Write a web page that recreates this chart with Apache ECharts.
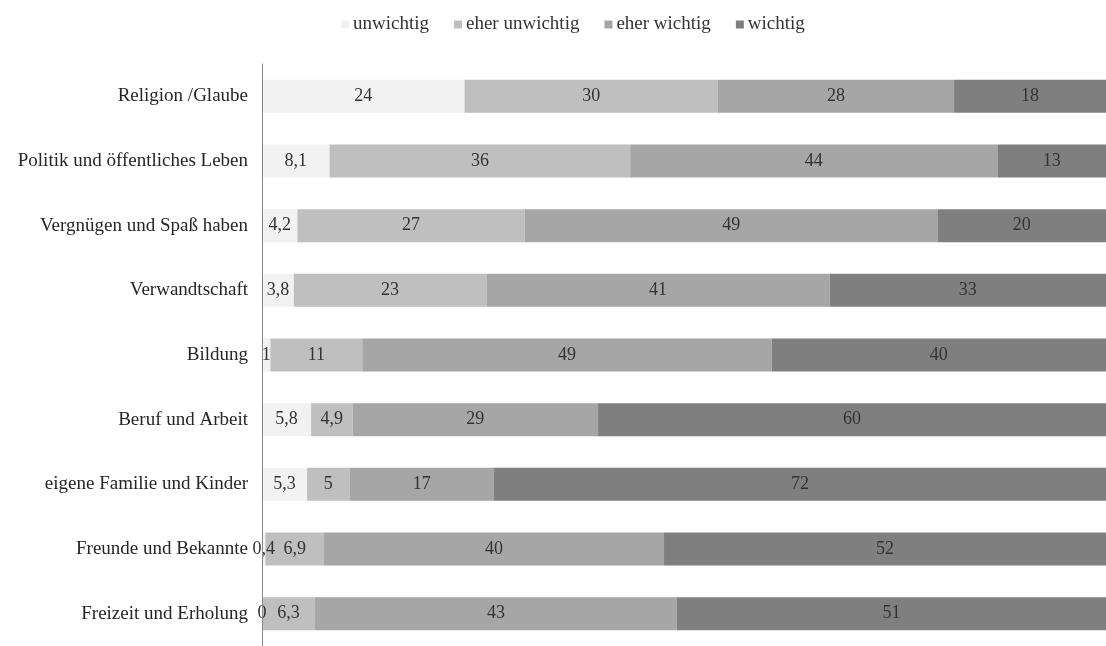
<!DOCTYPE html>
<html>
<head>
<meta charset="utf-8">
<script src="https://cdn.jsdelivr.net/npm/echarts@6/dist/echarts.min.js"></script>
<style>
  html, body { margin: 0; padding: 0; background: #ffffff; }
  #chart { width: 1106px; height: 646px; }
</style>
</head>
<body>
<div id="chart"></div>
<script>
// Categories, top to bottom
const categories = [
  'Religion /Glaube',
  'Politik und öffentliches Leben',
  'Vergnügen und Spaß haben',
  'Verwandtschaft',
  'Bildung',
  'Beruf und Arbeit',
  'eigene Familie und Kinder',
  'Freunde und Bekannte',
  'Freizeit und Erholung'
];

const seriesNames = ['unwichtig', 'eher unwichtig', 'eher wichtig', 'wichtig'];

// Answer shares per category (percent)
const unwichtig     = [24, 8.1, 4.2, 3.8, 1, 5.8, 5.3, 0.4, 0];
const eherUnwichtig = [30, 36, 27, 23, 11, 4.9, 5, 6.9, 6.3];
const eherWichtig   = [28, 44, 49, 41, 49, 29, 17, 40, 43];
const wichtig       = [18, 13, 20, 33, 40, 60, 72, 52, 51];

const colors = ['#f2f2f2', '#bfbfbf', '#a6a6a6', '#7f7f7f'];
const allValues = [unwichtig, eherUnwichtig, eherWichtig, wichtig];

// 100% stacked: each row is scaled to its own total
const rowTotals = categories.map((_, i) =>
  allValues.reduce((s, arr) => s + arr[i], 0));

const fmt = v => String(v).replace('.', ',');
const FONT = 'Liberation Serif';

const series = allValues.map((arr, k) => ({
  name: seriesNames[k],
  type: 'bar',
  stack: 'total',
  barCategoryGap: '49%',
  itemStyle: { color: colors[k] },
  data: arr.map((v, i) => ({ value: v / rowTotals[i] * 100, raw: v })),
  label: {
    show: true,
    position: 'inside',
    color: '#333333',
    fontFamily: FONT,
    fontSize: 18,
    formatter: p => fmt(p.data.raw)
  },
  emphasis: { disabled: true }
}));

const chart = echarts.init(document.getElementById('chart'));
chart.setOption({
  animation: false,
  backgroundColor: '#ffffff',
  textStyle: { fontFamily: FONT },
  legend: {
    top: 10,
    left: 336,
    itemWidth: 8,
    itemHeight: 8,
    itemGap: 25,
    icon: 'rect',
    textStyle: { color: '#333333', fontSize: 19, fontFamily: FONT, padding: [0, 0, 0, -1] },
    data: seriesNames
  },
  grid: { left: 262, right: -4, top: 64, bottom: -7, containLabel: false },
  xAxis: {
    type: 'value',
    min: 0,
    max: 100,
    show: false
  },
  yAxis: {
    type: 'category',
    inverse: true,
    z: 5,
    data: categories,
    axisLine: { show: true, lineStyle: { color: '#8a8a8a', width: 1 } },
    axisTick: { show: false },
    axisLabel: {
      color: '#262626',
      fontSize: 19,
      fontFamily: FONT,
      margin: 14
    }
  },
  series: series
});
</script>
</body>
</html>
